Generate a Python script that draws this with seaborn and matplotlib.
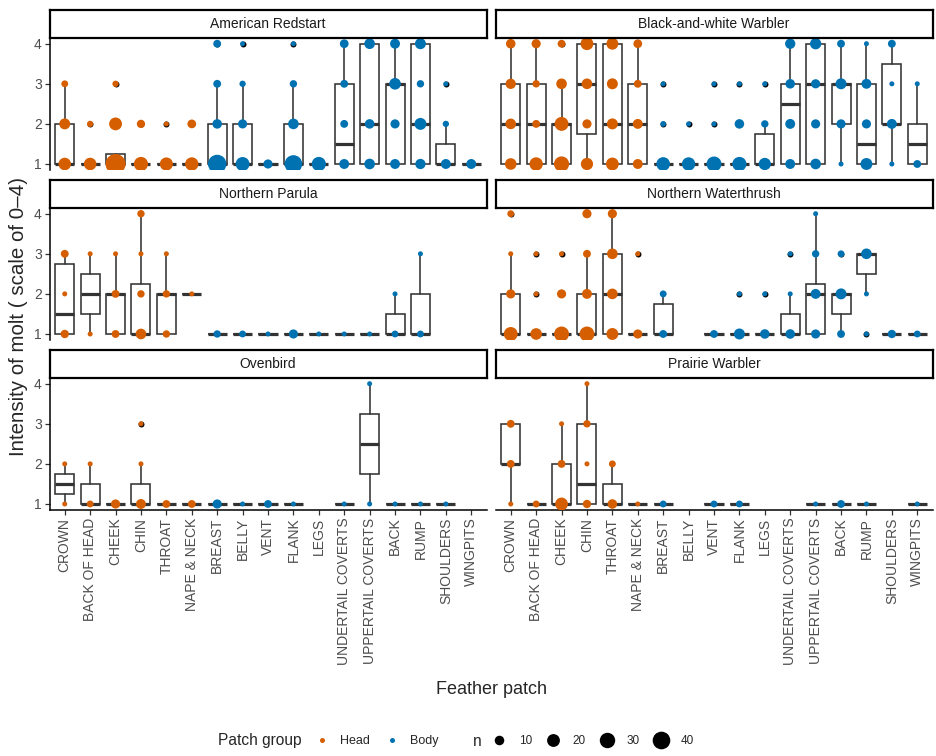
import numpy as np
import pandas as pd
import matplotlib
matplotlib.use('Agg')
import matplotlib.pyplot as plt
from matplotlib.lines import Line2D
import seaborn as sns

# ---- data ----
patches = ['CROWN', 'BACK OF HEAD', 'CHEEK', 'CHIN', 'THROAT', 'NAPE & NECK',
           'BREAST', 'BELLY', 'VENT', 'FLANK', 'LEGS', 'UNDERTAIL COVERTS',
           'UPPERTAIL COVERTS', 'BACK', 'RUMP', 'SHOULDERS', 'WINGPITS']
patch_group = ['Head'] * 6 + ['Body'] * 11
scores = [1, 2, 3, 4]
species = ['American Redstart', 'Black-and-white Warbler', 'Northern Parula',
           'Northern Waterthrush', 'Ovenbird', 'Prairie Warbler']

# birds per molt score (rows = score 1..4, one column per patch)
redstart_n = [[19, 19, 52, 25, 21, 22, 44, 24, 9, 40, 25, 11, 13, 11, 12, 11, 11],
              [14, 3, 20, 7, 1, 8, 10, 9, 0, 13, 0, 6, 10, 9, 17, 3, 0],
              [4, 0, 3, 0, 0, 0, 6, 3, 0, 5, 0, 6, 0, 16, 5, 1, 0],
              [0, 0, 0, 0, 0, 0, 6, 1, 0, 1, 0, 8, 13, 11, 14, 0, 0]]
bwwarbler_n = [[16, 22, 29, 18, 20, 11, 23, 22, 28, 25, 18, 11, 13, 1, 17, 1, 6],
               [13, 6, 24, 9, 14, 11, 2, 1, 1, 10, 5, 11, 9, 9, 9, 11, 0],
               [12, 5, 13, 13, 14, 6, 1, 0, 1, 1, 1, 10, 9, 14, 11, 1, 1],
               [10, 9, 6, 20, 17, 8, 0, 0, 0, 0, 0, 12, 15, 6, 1, 6, 0]]
parula_n = [[7, 1, 6, 13, 5, 0, 5, 4, 1, 9, 1, 1, 1, 4, 4, 0, 0],
            [1, 0, 6, 5, 5, 1, 0, 0, 0, 0, 0, 0, 0, 1, 0, 0, 0],
            [6, 1, 1, 1, 1, 0, 0, 0, 0, 0, 0, 0, 0, 0, 1, 0, 0],
            [0, 0, 0, 5, 0, 0, 0, 0, 0, 0, 0, 0, 0, 0, 0, 0, 0]]
waterthrush_n = [[24, 16, 28, 28, 17, 9, 6, 0, 6, 14, 10, 10, 9, 6, 1, 7, 4],
                 [9, 1, 9, 11, 13, 0, 4, 0, 0, 1, 1, 1, 11, 14, 1, 0, 0],
                 [1, 1, 1, 6, 13, 1, 0, 0, 0, 0, 0, 1, 5, 4, 13, 0, 0],
                 [4, 0, 0, 9, 9, 0, 0, 0, 0, 0, 0, 0, 1, 0, 0, 0, 0]]
ovenbird_n = [[1, 4, 9, 11, 6, 6, 9, 1, 6, 1, 0, 1, 1, 1, 1, 1, 0],
              [1, 1, 0, 1, 0, 0, 0, 0, 0, 0, 0, 0, 0, 0, 0, 0, 0],
              [0, 0, 0, 1, 0, 0, 0, 0, 0, 0, 0, 0, 0, 0, 0, 0, 0],
              [0, 0, 0, 0, 0, 0, 0, 0, 0, 0, 0, 0, 1, 0, 0, 0, 0]]
prairie_n = [[1, 4, 20, 7, 10, 1, 4, 0, 4, 4, 0, 0, 1, 6, 1, 0, 1],
             [6, 0, 6, 1, 4, 0, 0, 0, 0, 0, 0, 0, 0, 0, 0, 0, 0],
             [6, 0, 1, 5, 0, 0, 0, 0, 0, 0, 0, 0, 0, 0, 0, 0, 0],
             [0, 0, 0, 1, 0, 0, 0, 0, 0, 0, 0, 0, 0, 0, 0, 0, 0]]

# box stats per patch: (q1, median, q3, whisker low, whisker high)
redstart_box = [(1, 1, 2, 1, 3), (1, 1, 1, 1, 1), (1, 1, 1.25, 1, 1), (1, 1, 1, 1, 1),
                (1, 1, 1, 1, 1), (1, 1, 1, 1, 1), (1, 1, 2, 1, 3), (1, 1, 2, 1, 3),
                (1, 1, 1, 1, 1), (1, 1, 2, 1, 3), (1, 1, 1, 1, 1), (1, 1.5, 3, 1, 4),
                (1, 2, 4, 1, 4), (1, 3, 3, 1, 4), (1, 2, 4, 1, 4), (1, 1, 1.5, 1, 2),
                (1, 1, 1, 1, 1)]
bwwarbler_box = [(1, 2, 3, 1, 4), (1, 2, 3, 1, 4), (1, 2, 2, 1, 3), (1.75, 3, 4, 1, 4),
                 (1, 2, 4, 1, 4), (1, 2, 3, 1, 4), (1, 1, 1, 1, 1), (1, 1, 1, 1, 1),
                 (1, 1, 1, 1, 1), (1, 1, 1, 1, 1), (1, 1, 1.75, 1, 2), (1, 2.5, 3, 1, 4),
                 (1, 3, 4, 1, 4), (2, 3, 3, 1, 4), (1, 1.5, 3, 1, 4), (2, 2, 3.5, 1, 4),
                 (1, 1.5, 2, 1, 3)]
parula_box = [(1, 1.5, 2.75, 1, 3), (1.5, 2, 2.5, 1, 3), (1, 2, 2, 1, 3), (1, 1, 2.25, 1, 4),
              (1, 2, 2, 1, 3), (2, 2, 2, 2, 2), (1, 1, 1, 1, 1), (1, 1, 1, 1, 1),
              (1, 1, 1, 1, 1), (1, 1, 1, 1, 1), (1, 1, 1, 1, 1), (1, 1, 1, 1, 1),
              (1, 1, 1, 1, 1), (1, 1, 1.5, 1, 2), (1, 1, 2, 1, 3), None, None]
waterthrush_box = [(1, 1, 2, 1, 3), (1, 1, 1, 1, 1), (1, 1, 1, 1, 1), (1, 1, 2, 1, 3),
                   (1, 2, 3, 1, 4), (1, 1, 1, 1, 1), (1, 1, 1.75, 1, 2), None,
                   (1, 1, 1, 1, 1), (1, 1, 1, 1, 1), (1, 1, 1, 1, 1), (1, 1, 1.5, 1, 2),
                   (1, 2, 2.25, 1, 4), (1.5, 2, 2, 1, 2), (2.5, 3, 3, 2, 3), (1, 1, 1, 1, 1),
                   (1, 1, 1, 1, 1)]
ovenbird_box = [(1.25, 1.5, 1.75, 1, 2), (1, 1, 1.5, 1, 2), (1, 1, 1, 1, 1), (1, 1, 1.5, 1, 2),
                (1, 1, 1, 1, 1), (1, 1, 1, 1, 1), (1, 1, 1, 1, 1), (1, 1, 1, 1, 1),
                (1, 1, 1, 1, 1), (1, 1, 1, 1, 1), None, (1, 1, 1, 1, 1),
                (1.75, 2.5, 3.25, 1, 4), (1, 1, 1, 1, 1), (1, 1, 1, 1, 1), (1, 1, 1, 1, 1),
                None]
prairie_box = [(2, 2, 3, 1, 3), (1, 1, 1, 1, 1), (1, 1, 2, 1, 3), (1, 1.5, 3, 1, 4),
               (1, 1, 1.5, 1, 2), (1, 1, 1, 1, 1), (1, 1, 1, 1, 1), None,
               (1, 1, 1, 1, 1), (1, 1, 1, 1, 1), None, None,
               (1, 1, 1, 1, 1), (1, 1, 1, 1, 1), (1, 1, 1, 1, 1), None,
               (1, 1, 1, 1, 1)]

all_counts = [redstart_n, bwwarbler_n, parula_n, waterthrush_n, ovenbird_n, prairie_n]
all_boxes = [redstart_box, bwwarbler_box, parula_box, waterthrush_box, ovenbird_box, prairie_box]
size_legend = [10, 20, 30, 40]

colors = {'Head': '#D55E00', 'Body': '#0072B2'}
box_col = '#333333'
size_range = (13, 207)
size_norm = (1, 52)

sns.set_style('white')
plt.rcParams['font.family'] = ['Liberation Sans', 'DejaVu Sans']

W, H = 936, 756
fig = plt.figure(figsize=(W / 100, H / 100), dpi=100)
col_x = [49.5, 495.5]
row_top = [37.7, 207.7, 377.7]
pw, ph, sh = 437, 132.3, 27.5

for k, sp in enumerate(species):
    r, c = divmod(k, 2)
    x0, y0 = col_x[c], row_top[r]
    ax = fig.add_axes([x0 / W, 1 - (y0 + ph) / H, pw / W, ph / H])
    st = fig.add_axes([x0 / W, 1 - y0 / H, pw / W, sh / H])
    counts = all_counts[k]

    # boxes (outliers = observed scores beyond the whiskers)
    stats, pos = [], []
    for pi, b in enumerate(all_boxes[k]):
        if b is None:
            continue
        q1, med, q3, lo, hi = b
        fl = [s for s in scores if counts[s - 1][pi] > 0 and (s < lo or s > hi)]
        stats.append(dict(q1=q1, med=med, q3=q3, whislo=lo, whishi=hi, fliers=fl))
        pos.append(pi)
    ax.bxp(stats, positions=pos, widths=0.75, showcaps=False, showfliers=True,
           patch_artist=True,
           boxprops=dict(facecolor='white', edgecolor=box_col, linewidth=1.15),
           medianprops=dict(color=box_col, linewidth=2.3),
           whiskerprops=dict(color=box_col, linewidth=1.15),
           flierprops=dict(marker='o', markerfacecolor='black', markeredgewidth=0,
                           markersize=4.3))

    # counted points
    rows = []
    for si, s in enumerate(scores):
        for pi in range(len(patches)):
            if counts[si][pi] > 0:
                rows.append((pi, s, counts[si][pi], patch_group[pi]))
    df = pd.DataFrame(rows, columns=['pos', 'score', 'n', 'group'])
    sns.scatterplot(data=df, x='pos', y='score', hue='group', palette=colors,
                    size='n', sizes=size_range, size_norm=size_norm,
                    linewidth=0, alpha=1, legend=False, ax=ax, zorder=3)

    ax.set_xlim(-0.6, len(patches) - 0.4)
    ax.set_ylim(0.85, 4.15)
    ax.set_xticks(range(len(patches)))
    ax.set_yticks([1, 2, 3, 4])
    ax.set_xlabel('')
    ax.set_ylabel('')
    for s in ['top', 'right']:
        ax.spines[s].set_visible(False)
    for s in ['left', 'bottom']:
        ax.spines[s].set_color('black')
        ax.spines[s].set_linewidth(1.1)
    ax.tick_params(length=3.5, width=0.9, color=box_col, labelsize=10,
                   labelcolor='#4D4D4D', pad=2)
    if c == 1:
        ax.spines['left'].set_visible(False)
        ax.tick_params(axis='y', left=False, labelleft=False)
    else:
        ax.tick_params(axis='y', left=True)
    if r < 2:
        ax.spines['bottom'].set_visible(False)
        ax.tick_params(axis='x', bottom=False, labelbottom=False)
    else:
        ax.tick_params(axis='x', bottom=True)
        ax.set_xticklabels(patches, rotation=90)

    # facet strip
    st.set_xticks([])
    st.set_yticks([])
    st.set_facecolor('white')
    for s in st.spines.values():
        s.set_visible(True)
        s.set_color('black')
        s.set_linewidth(1.6)
    st.text(0.5, 0.5, sp, ha='center', va='center', fontsize=10, color='#1A1A1A',
            transform=st.transAxes)

fig.text(491 / W, 1 - 690 / H, 'Feather patch', ha='center', va='center', fontsize=13)
fig.text(19 / W, 1 - 317 / H, 'Intensity of molt ( scale of 0\u20134)', ha='center',
         va='center', rotation=90, fontsize=14.8)

# legends
ly = 1 - 741 / H
fig.text(218 / W, ly, 'Patch group', ha='left', va='center', fontsize=11.2)
grp_handles = [Line2D([], [], ls='', marker='o', ms=3.6, mfc=colors[g], mec='none')
               for g in ['Head', 'Body']]
fig.legend(handles=grp_handles, labels=['Head', 'Body'], ncol=2, frameon=False,
           loc='center left', bbox_to_anchor=(316 / W, ly), fontsize=9,
           handlelength=1.0, handletextpad=0.95, columnspacing=1.25,
           borderpad=0, borderaxespad=0)

fig.text(473 / W, ly, 'n', ha='left', va='center', fontsize=11.2)
smin, smax = size_range
nmin, nmax = size_norm
size_handles = [Line2D([], [], ls='', marker='o', mfc='black', mec='none',
                       ms=np.sqrt(smin + (smax - smin) * (v - nmin) / (nmax - nmin)))
                for v in size_legend]
fig.legend(handles=size_handles, labels=[str(v) for v in size_legend], ncol=4,
           frameon=False, loc='center left', bbox_to_anchor=(491 / W, ly), fontsize=8.5,
           handlelength=1.35, handletextpad=1.0, columnspacing=1.1,
           borderpad=0, borderaxespad=0)

fig.savefig('out.png', dpi=100)
